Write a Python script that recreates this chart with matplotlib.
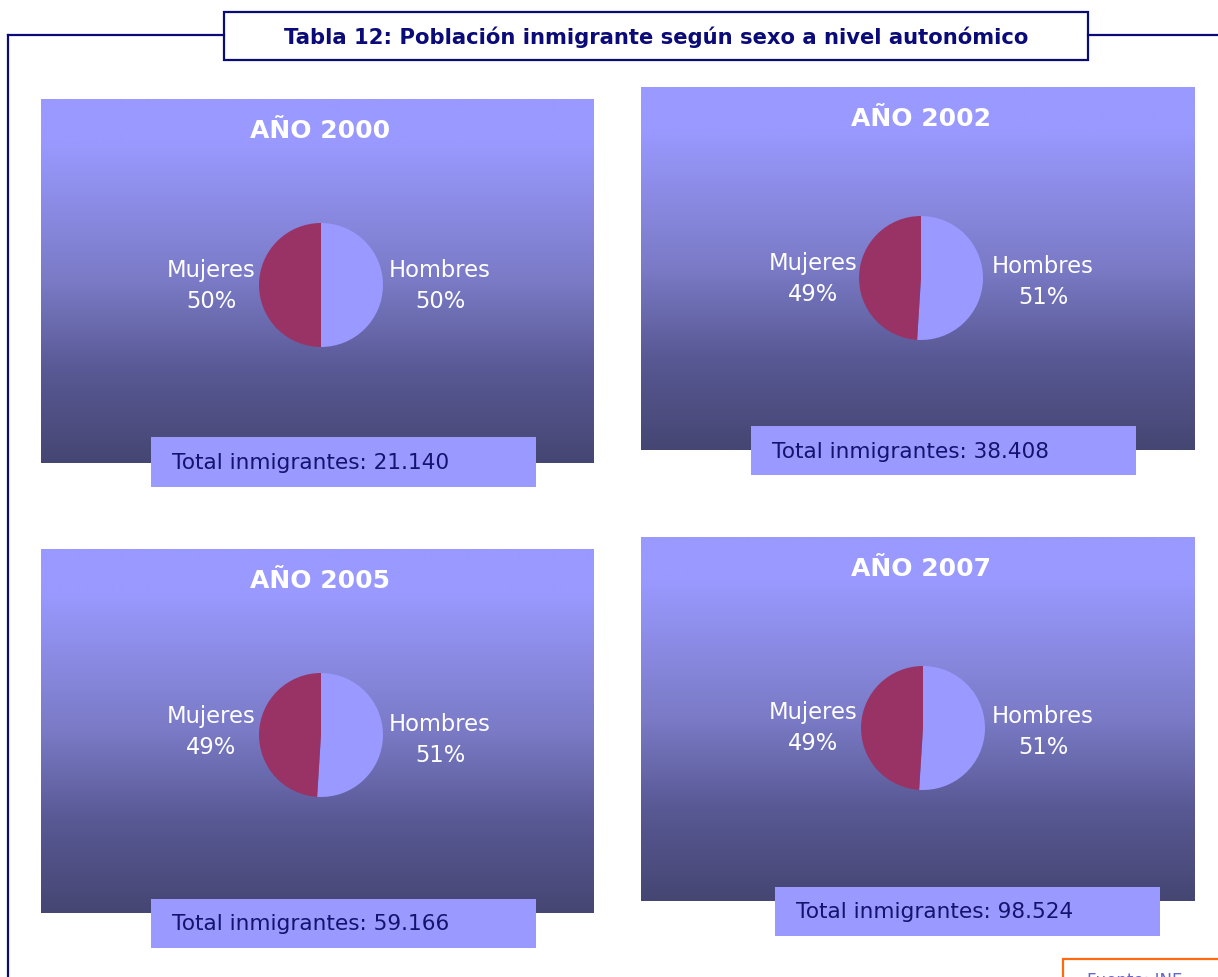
# Población inmigrante según sexo - four pie panels (Tabla 12)

import numpy as np
import matplotlib.pyplot as plt
from matplotlib.patches import Rectangle
from matplotlib.colors import LinearSegmentedColormap

years = ["2000", "2002", "2005", "2007"]
hombres = [50, 51, 51, 51]
mujeres = [50, 49, 49, 49]
totals = ["21.140", "38.408", "59.166", "98.524"]
slice_names = ["Hombres", "Mujeres"]
title = "Tabla 12: Población inmigrante según sexo a nivel autonómico"
source = "Fuente: INE"

W, H = 1218, 977
NAVY = "#0a0a78"
TXT_DARK = "#14146e"
C_HOMBRES = "#9999ff"
C_MUJERES = "#993366"

# layout in pixels: panel (x0, y0, x1, y1), pie centre, label anchors, total box
panels = [(41, 99, 594, 463), (641, 87, 1195, 450), (41, 549, 594, 913), (641, 537, 1195, 901)]
pie_centres = [(321, 285), (921, 278), (321, 735), (923, 728)]
radius = 62
lbl_m = [(211, 286), (813, 279), (211, 732), (813, 728)]
lbl_h = [(440, 286), (1043, 282), (440, 740), (1043, 732)]
total_boxes = [(151, 437, 536, 487), (751, 426, 1136, 475), (151, 899, 536, 948), (775, 887, 1160, 936)]

grad = LinearSegmentedColormap.from_list("bg", [
    (0.0, (153/255, 153/255, 255/255)),
    (0.12, (153/255, 153/255, 255/255)),
    (0.5, (122/255, 122/255, 198/255)),
    (0.75, (88/255, 88/255, 148/255)),
    (1.0, (70/255, 70/255, 115/255)),
])

fig = plt.figure(figsize=(W / 100, H / 100), dpi=100)
ax = fig.add_axes([0, 0, 1, 1])
ax.set_xlim(0, W)
ax.set_ylim(H, 0)
ax.axis("off")

# outer frame and title box
ax.plot([8, 8], [35, H + 5], color=NAVY, lw=1.6)
ax.plot([8, 224], [35, 35], color=NAVY, lw=1.6)
ax.plot([1088, W], [35, 35], color=NAVY, lw=1.6)
ax.add_patch(Rectangle((224, 12), 864, 48, fc="white", ec=NAVY, lw=1.6))
ax.text(656, 37, title, ha="center", va="center", fontsize=15.2,
        fontweight="bold", color=NAVY)

# source box (cut by the bottom edge, as in the original page)
ax.add_patch(Rectangle((1063, 959), 200, 40, fc="white", ec="#ff6a10", lw=1.6))
ax.text(1087, 972, source, ha="left", va="top", fontsize=12, color="#6666cc")

g = np.linspace(0, 1, 256).reshape(-1, 1)
for i, yr in enumerate(years):
    x0, y0, x1, y1 = panels[i]
    ax.imshow(g, cmap=grad, aspect="auto", extent=(x0, x1, y1, y0),
              origin="upper", interpolation="bilinear", zorder=1)
    ax.text((x0 + x1) / 2 + 3, y0 + 32, "AÑO " + yr, ha="center", va="center",
            fontsize=18, fontweight="bold", color="white", zorder=3)

    mx, my = lbl_m[i]
    ax.text(mx, my, "%s\n%d%%" % (slice_names[1], mujeres[i]), ha="center",
            va="center", fontsize=16.3, color="white", linespacing=1.4, zorder=3)
    hx, hy = lbl_h[i]
    ax.text(hx, hy, "%s\n%d%%" % (slice_names[0], hombres[i]), ha="center",
            va="center", fontsize=16.3, color="white", linespacing=1.4, zorder=3)

    bx0, by0, bx1, by1 = total_boxes[i]
    ax.add_patch(Rectangle((bx0, by0), bx1 - bx0, by1 - by0, fc=C_HOMBRES,
                           ec="none", zorder=4))
    ax.text(bx0 + 21, (by0 + by1) / 2 + 1, "Total inmigrantes: " + totals[i],
            ha="left", va="center", fontsize=15.6, color=TXT_DARK, zorder=5)

    # pie in its own little axes
    cx, cy = pie_centres[i]
    pax = fig.add_axes([(cx - radius) / W, 1 - (cy + radius) / H,
                        2 * radius / W, 2 * radius / H])
    pax.pie([hombres[i], mujeres[i]], colors=[C_HOMBRES, C_MUJERES],
            startangle=90, counterclock=False, radius=1,
            wedgeprops=dict(linewidth=0))
    pax.set_xlim(-1, 1)
    pax.set_ylim(-1, 1)
    pax.axis("off")

fig.savefig("out.png", dpi=100)
